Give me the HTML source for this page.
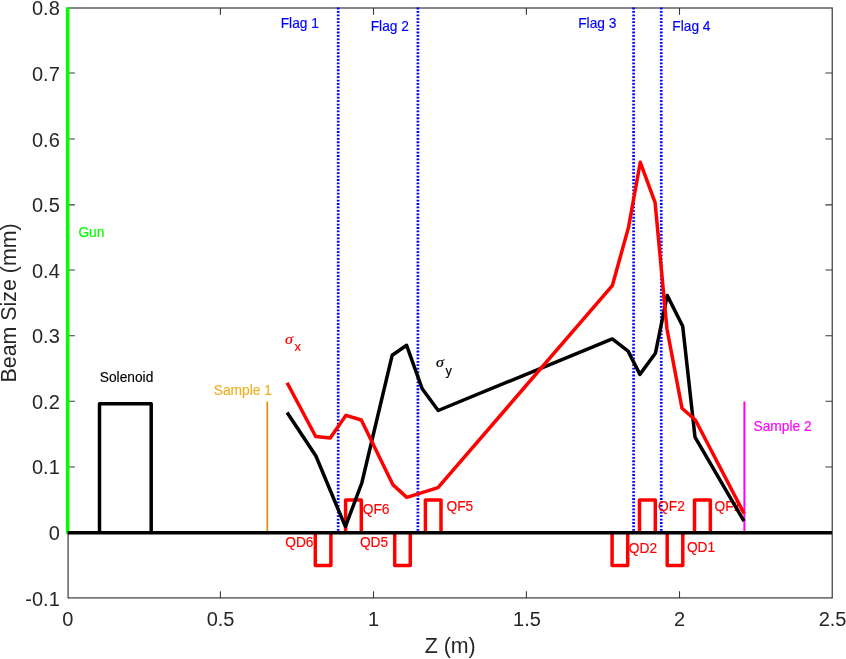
<!DOCTYPE html>
<html lang="en">
<head>
<meta charset="utf-8">
<title>Beam Size vs Z</title>
<style>
html,body{margin:0;padding:0;background:#fff;}
body{width:846px;height:659px;overflow:hidden;}
svg{display:block;}
text{font-family:"Liberation Sans",Arial,Helvetica,sans-serif;}
.tick{font-size:20px;fill:#262626;}
.lab{font-size:21.4px;fill:#262626;}
.ann{font-size:13.75px;stroke-width:0.15px;}
.sig{stroke-width:0.2px;font-family:"Liberation Serif","DejaVu Serif",serif;font-style:italic;font-size:14px;}
</style>
</head>
<body>
<svg width="846" height="659" viewBox="0 0 846 659">
<rect x="0" y="0" width="846" height="659" fill="#ffffff"/>

<!-- axes box -->
<rect x="68.1" y="8" width="764.15" height="589.9" fill="none" stroke="#484848" stroke-width="1.3"/>
<g fill="none" stroke="#383838" stroke-width="1.1">
<path d="M220.4 597.9v-6.7M373.5 597.9v-6.7M526.4 597.9v-6.7M679.5 597.9v-6.7"/>
<path d="M220.4 8v6.7M373.5 8v6.7M526.4 8v6.7M679.5 8v6.7"/>
<path d="M68.1 532.75h6.8M68.1 467h6.8M68.1 401.3h6.8M68.1 335.7h6.8M68.1 270.05h6.8M68.1 204.9h6.8M68.1 139h6.8M68.1 73.0h6.8"/>
<path d="M832.25 532.75h-6.8M832.25 467h-6.8M832.25 401.3h-6.8M832.25 335.7h-6.8M832.25 270.05h-6.8M832.25 204.9h-6.8M832.25 139h-6.8M832.25 73.0h-6.8"/>
</g>

<!-- y tick labels -->
<g class="tick" text-anchor="end">
<text x="59.8" y="15">0.8</text>
<text x="59.8" y="81">0.7</text>
<text x="59.8" y="147">0.6</text>
<text x="59.8" y="212">0.5</text>
<text x="59.8" y="278">0.4</text>
<text x="59.8" y="343">0.3</text>
<text x="59.8" y="409">0.2</text>
<text x="59.8" y="474">0.1</text>
<text x="59.8" y="540">0</text>
<text x="59.8" y="606">-0.1</text>
</g>

<!-- x tick labels -->
<g class="tick" text-anchor="middle">
<text x="67.9" y="626">0</text>
<text x="220.6" y="626">0.5</text>
<text x="373.6" y="626">1</text>
<text x="527" y="626">1.5</text>
<text x="679.5" y="626">2</text>
<text x="832.6" y="626">2.5</text>
</g>

<!-- axis labels -->
<text class="lab" text-anchor="middle" x="450.2" y="652.7">Z (m)</text>
<text class="lab" text-anchor="middle" transform="translate(16.4,302.9) rotate(-90)">Beam Size (mm)</text>

<!-- flags (dotted) -->
<g fill="none" stroke="#0000ff" stroke-width="2.7" stroke-dasharray="1.8 1.63">
<path d="M338.2 7.6V532.7"/>
<path d="M417.9 7.6V532.7"/>
<path d="M633.6 7.6V532.7"/>
<path d="M661.25 7.6V532.7"/>
</g>

<!-- sample lines -->
<path d="M267.3 532.7V401.5" stroke="#de8a17" stroke-width="1.7" fill="none"/>
<path d="M744.4 532.7V401.5" stroke="#ff00ff" stroke-width="2" fill="none"/>

<!-- annotations -->
<g class="ann">
<text x="280.7" y="28.1" fill="#0000ff" stroke="#0000ff">Flag 1</text>
<text x="370.7" y="30.5" fill="#0000ff" stroke="#0000ff">Flag 2</text>
<text x="578.2" y="28.1" fill="#0000ff" stroke="#0000ff">Flag 3</text>
<text x="672.3" y="31.1" fill="#0000ff" stroke="#0000ff">Flag 4</text>
<text x="78.4" y="237" fill="#00ff00" stroke="#00ff00">Gun</text>
<text x="99.8" y="382.3" fill="#000000" stroke="#000000">Solenoid</text>
<text x="213.8" y="395.3" fill="#edb120" stroke="#edb120">Sample 1</text>
<text x="753.5" y="430.8" fill="#ff00ff" stroke="#ff00ff">Sample 2</text>
<g fill="#ff0000" stroke="#ff0000">
<text x="285.2" y="546.7">QD6</text>
<text x="359.9" y="546.7">QD5</text>
<text x="362.7" y="514">QF6</text>
<text x="446.5" y="511">QF5</text>
<text x="628.8" y="553.4">QD2</text>
<text x="658.1" y="510.6">QF2</text>
<text x="686.9" y="551.9">QD1</text>
<text x="714.5" y="510.6">QF1</text>
<text x="294.4" y="351.2" font-size="12.8">x</text>
</g>
<text x="445.5" y="374.9" font-size="12.8" fill="#000000" stroke="#000000">y</text>
</g>
<text class="sig" transform="translate(285.1,343.5) scale(1.15,1)" fill="#ff0000" stroke="#ff0000">σ</text>
<text class="sig" transform="translate(436.1,366.9) scale(1.15,1)" fill="#000000" stroke="#000000">σ</text>

<!-- solenoid -->
<path d="M99.5 532.75V403.85H151.2V532.75" fill="none" stroke="#000" stroke-width="3.5" stroke-linejoin="round"/>

<!-- quads -->
<g fill="none" stroke="#ff0000" stroke-width="3.5" stroke-linejoin="round">
<path d="M315.3 532.75V565.5H330.9V532.75"/>
<path d="M345.6 532.75V499.95H361.3V532.75"/>
<path d="M394.7 532.75V565.5H410.3V532.75"/>
<path d="M425.4 532.75V499.95H441V532.75"/>
<path d="M612.1 532.75V565.5H627.7V532.75"/>
<path d="M639.5 532.75V499.95H655.3V532.75"/>
<path d="M667.2 532.75V565.5H682.8V532.75"/>
<path d="M694.5 532.75V499.95H710.35V532.75"/>
</g>

<!-- sigma y (black) -->
<polyline fill="none" stroke="#000" stroke-width="3.5" stroke-linejoin="round" points="287.1,412.5 315.9,456 345.4,526.7 361.8,483 392.2,355.2 406.6,345.3 422.2,388.8 438.2,410.5 612.3,338.9 628.1,351.1 639.9,374.4 655.4,353.3 667.2,295.4 682.7,326.3 695,437.1 744.0,521.2"/>

<!-- sigma x (red) -->
<polyline fill="none" stroke="#ff0000" stroke-width="3.5" stroke-linejoin="round" points="287.1,382.7 315.7,436.5 330.2,438 346,415.3 361.3,420 392.8,484.6 406.8,497.4 438,487.6 612.3,285.7 628.5,227.4 640.3,162.3 655.1,202.7 666.9,328.5 682,408.3 695.4,420 744.2,513.8"/>

<!-- gun (green) -->
<path d="M67.65 533.8V7.3" stroke="#00ff00" stroke-width="3.5" fill="none"/>

<!-- y = 0 axis line -->
<path d="M67.7 532.75H832" stroke="#000" stroke-width="3.5" fill="none"/>
</svg>
</body>
</html>
